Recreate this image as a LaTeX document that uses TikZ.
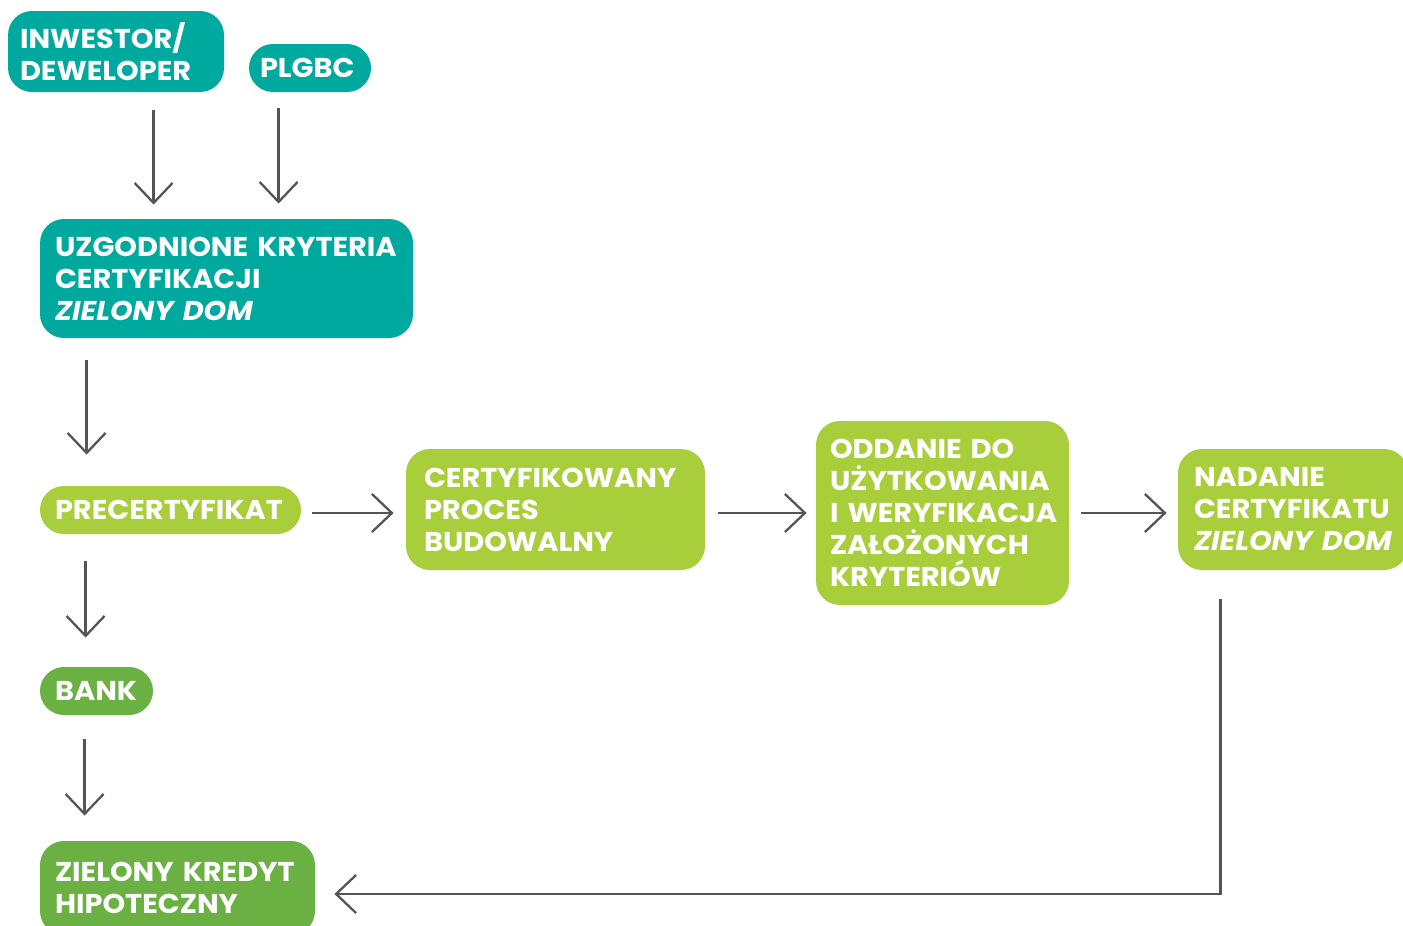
\documentclass[tikz,border=0pt]{standalone}
\usepackage{fontspec}
\setmainfont{Poppins}[FakeStretch=1.06]
\usetikzlibrary{arrows.meta}
\definecolor{teal1}{HTML}{00A99D}
\definecolor{lime1}{HTML}{A8CF3B}
\definecolor{green1}{HTML}{6AB042}
\definecolor{arrgray}{HTML}{555555}
\tikzset{
  box/.style={rounded corners=12pt, text=white, font=\fontsize{13.6pt}{16pt}\selectfont\bfseries, align=left, anchor=center, inner ysep=0pt},
  tealbox/.style={box, fill=teal1},
  limebox/.style={box, fill=lime1},
  greenbox/.style={box, fill=green1},
  arr/.style={draw=arrgray, line width=1.15pt, -{Straight Barb[length=10pt,width=19pt,line width=1.15pt]}},
}
\begin{document}
\begin{tikzpicture}[x=0.5pt,y=-0.5pt]
\useasboundingbox (0,0) rectangle (1403,926);
\clip (0,0) rectangle (1403,926);
% boxes
\node[tealbox, minimum width=108pt, minimum height=40.5pt, text width=96pt, inner xsep=6pt] (inv) at (116,51.5) {\mbox{INWESTOR/}\\\mbox{DEWELOPER}};
\node[tealbox, minimum width=61pt, minimum height=24pt, text width=50pt, inner xsep=5.5pt] (plgbc) at (310,68) {\mbox{PLGBC}};
\node[tealbox, minimum width=186.5pt, minimum height=59.5pt, text width=171.5pt, inner xsep=7.5pt] (uzg) at (226.5,278.5) {\mbox{UZGODNIONE KRYTERIA}\\\mbox{CERTYFIKACJI}\\\mbox{\textit{ZIELONY DOM}}};
\node[limebox, minimum width=130.5pt, minimum height=24pt, text width=115.5pt, inner xsep=7.5pt] (pre) at (170.5,510) {\mbox{PRECERTYFIKAT}};
\node[limebox, minimum width=149.5pt, minimum height=60.5pt, text width=131.5pt, inner xsep=9pt] (cpb) at (555.5,509.5) {\mbox{CERTYFIKOWANY}\\\mbox{PROCES}\\\mbox{BUDOWALNY}};
\node[limebox, minimum width=126.5pt, minimum height=92pt, text width=112.5pt, inner xsep=7pt] (odd) at (942.5,513) {\mbox{ODDANIE DO}\\\mbox{UŻYTKOWANIA}\\\mbox{I WERYFIKACJA}\\\mbox{ZAŁOŻONYCH}\\\mbox{KRYTERIÓW}};
\node[limebox, minimum width=115pt, minimum height=60.5pt, text width=99pt, inner xsep=8pt] (nad) at (1293,509.5) {\mbox{NADANIE}\\\mbox{CERTYFIKATU}\\\mbox{\textit{ZIELONY DOM}}};
\node[greenbox, minimum width=56.5pt, minimum height=24pt, text width=41.5pt, inner xsep=7.5pt] (bank) at (96.5,691) {\mbox{BANK}};
\node[greenbox, minimum width=137.5pt, minimum height=47pt, text width=122.5pt, inner xsep=7.5pt] (zk) at (177.5,888) {\mbox{ZIELONY KREDYT}\\\mbox{HIPOTECZNY}};
% connectors
\draw[arr] ([xshift=73pt,yshift=-9pt]inv.south west) -- ([xshift=57pt,yshift=7pt]uzg.north west);
\draw[arr] ([xshift=15pt,yshift=-8pt]plgbc.south west) -- ([xshift=119.5pt,yshift=7.5pt]uzg.north west);
\draw[arr] ([xshift=23.5pt,yshift=-11pt]uzg.south west) -- ([xshift=23.5pt,yshift=15.5pt]pre.north west);
\draw[arr] ([xshift=23pt,yshift=-13.5pt]pre.south west) -- ([xshift=23pt,yshift=14.5pt]bank.north west);
\draw[arr] ([xshift=22.5pt,yshift=-12pt]bank.south west) -- ([xshift=22.5pt,yshift=12.5pt]zk.north west);
\draw[arr] ([xshift=5.5pt,yshift=-1.5pt]pre.east) -- ([xshift=-6pt,yshift=-1.75pt]cpb.west);
\draw[arr] ([xshift=6.5pt,yshift=-1.75pt]cpb.east) -- ([xshift=-4.5pt]odd.west);
\draw[arr] ([xshift=6pt]odd.east) -- ([xshift=-5.5pt,yshift=-1.75pt]nad.west);
\draw[arr] ([xshift=21.5pt,yshift=-14.5pt]nad.south west) |- ([xshift=9.5pt,yshift=-3pt]zk.east);
\end{tikzpicture}
\end{document}
